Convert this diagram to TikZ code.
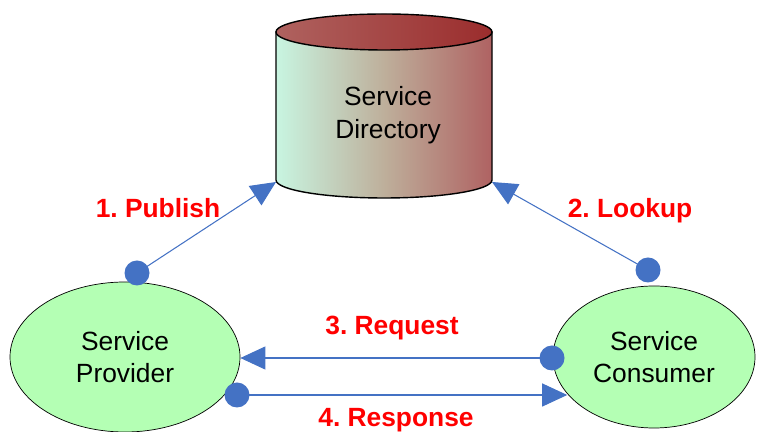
\documentclass[tikz,border=0pt]{standalone}
\usepackage{fontspec}
\setmainfont{Liberation Sans}
\usetikzlibrary{arrows.meta,shapes.geometric}

\definecolor{msgblue}{RGB}{68,114,196}
\definecolor{partygreen}{RGB}{180,255,180}
\definecolor{dirmint}{RGB}{200,245,225}
\definecolor{dirtan}{RGB}{190,175,155}
\definecolor{dirred}{RGB}{175,98,98}
\definecolor{toplight}{RGB}{175,98,95}
\definecolor{topdark}{RGB}{155,45,45}

\begin{document}
\frenchspacing
\begin{tikzpicture}[font=\fontsize{15}{18.5}\selectfont,
  party/.style={ellipse, draw, thin, fill=partygreen, align=center},
  dot/.style={circle, fill=msgblue, inner sep=0pt, minimum size=0.5cm},
  msg/.style={draw=msgblue, line width=0.6pt, -{Triangle[length=0.5cm,width=0.46cm]}, shorten <=-1pt},
  lbl/.style={text=red, font=\fontsize{15}{18}\selectfont\bfseries}]

\useasboundingbox (0,0) rectangle (15.16,8.64);

% service directory
\begin{scope}
\shade[left color=dirmint, right color=dirred, middle color=dirtan, draw, line width=0.8pt]
  (5.52,8.0) -- (5.52,5.04) arc (180:360:2.16 and 0.36) -- (9.84,8.0) -- cycle;
\shade[left color=toplight, right color=topdark, draw, line width=0.8pt]
  (7.68,8.0) ellipse (2.16 and 0.36);
\coordinate (dirbl) at (5.52,5.0);
\coordinate (dirbr) at (9.84,5.0);
\node[align=center] (dir) at (7.76,6.34) {Service\\Directory};
\end{scope}

% provider and consumer
\node[party, minimum width=4.6cm, minimum height=3.0cm] (prov) at (2.5,1.5) {Service\\Provider};
\node[party, minimum width=4.04cm, minimum height=2.84cm] (cons) at (13.08,1.5) {Service\\Consumer};

\node[dot] (pub) at (2.74,3.18) {};
\node[dot] (look) at (12.96,3.24) {};
\node[dot] (req) at (11.04,1.48) {};
\node[dot] (resp) at (4.74,0.74) {};

\draw[msg] (pub) -- (dirbl);
\draw[msg] (look) -- (dirbr);
\draw[msg] (req) -- (req -| prov.east);
\draw[msg] (resp) -- (resp -| cons.203.6);

\node[lbl] (publbl) at (3.16,4.48) {1. Publish};
\node[lbl] (looklbl) at (12.6,4.42) {2. Lookup};
\node[lbl] (reqlbl) at (7.84,2.08) {3. Request};
\node[lbl] (resplbl) at (7.92,0.24) {4. Response};

\end{tikzpicture}
\end{document}
